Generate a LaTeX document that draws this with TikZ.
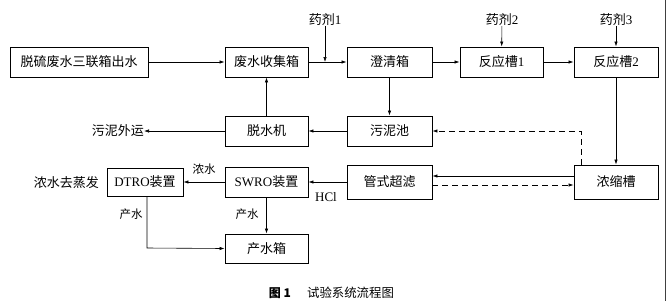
\documentclass[tikz,border=0pt]{standalone}
\usepackage{fontspec}
\setmainfont{Liberation Serif}
\newfontfamily\cjk{Noto Sans CJK SC}
\usetikzlibrary{arrows.meta}
\newcommand\zh[1]{{\cjk #1}}
\begin{document}
\begin{tikzpicture}[x=1pt,y=-1pt,
  box/.style={draw,line width=0.9pt,inner sep=0pt,minimum height=30pt,font=\fontsize{13}{14}\selectfont},
  lbl/.style={inner sep=0pt,font=\fontsize{13}{14}\selectfont},
  slbl/.style={inner sep=0pt,font=\fontsize{11.5}{12}\selectfont},
  flow/.style={line width=0.6pt,-{Latex[length=5pt,width=3.4pt]}},
  dflow/.style={flow,dashed,dash pattern=on 6pt off 4pt}]
\useasboundingbox (0,0) rectangle (668,301);
\draw[line width=0.8pt,black!75] (665,0) -- (665,301);
% boxes
\node[box,minimum width=138pt] (b1) at (79,62) {\zh{脱硫废水三联箱出水}};
\node[box,minimum width=83pt] (b2) at (266.5,62) {\zh{废水收集箱}};
\node[box,minimum width=85pt] (b3) at (389.5,62) {\zh{澄清箱}};
\node[box,minimum width=83pt] (b4) at (501.5,62) {\zh{反应槽}1};
\node[box,minimum width=84pt] (b5) at (616,62) {\zh{反应槽}2};
\node[box,minimum width=83pt] (b6) at (266.5,131) {\zh{脱水机}};
\node[box,minimum width=85pt] (b7) at (389.5,131) {\zh{污泥池}};
\node[box,minimum width=84pt,minimum height=34pt] (b8) at (616,182) {\zh{浓缩槽}};
\node[box,minimum width=85pt,minimum height=34pt] (b9) at (389.5,182) {\zh{管式超滤}};
\node[box,minimum width=83pt] (b10) at (266.5,182) {SWRO\zh{装置}};
\node[box,minimum width=76pt,minimum height=28pt] (b11) at (145,182) {DTRO\zh{装置}};
\node[box,minimum width=83pt,minimum height=29pt] (b12) at (266.5,248.5) {\zh{产水箱}};
% labels
\node[lbl] (y1) at (325,20) {\zh{药剂}1};
\node[lbl] (y2) at (502,20) {\zh{药剂}2};
\node[lbl] (y3) at (616,20) {\zh{药剂}3};
\node[lbl,anchor=east] (wy) at (144,131) {\zh{污泥外运}};
\node[lbl] (hcl) at (326,197) {HCl};
\node[slbl] (ns) at (204,169) {\zh{浓水}};
\node[lbl,anchor=east] (zf) at (99,183) {\zh{浓水去蒸发}};
\node[slbl] (cs1) at (131,214) {\zh{产水}};
\node[slbl] (cs2) at (247,214) {\zh{产水}};
\node[inner sep=0pt,font=\cjk\bfseries\fontsize{12}{12}\selectfont] (fig) at (280,293) {图 1};
\node[inner sep=0pt,font=\fontsize{12.4}{13}\selectfont] (cap) at (350.5,293) {\zh{试验系统流程图}};
% coordinates
\coordinate (y1e) at (325,62);
\coordinate (dc) at (581,131);
\coordinate (dl) at (147,248);
% connectors
\draw[flow] (b1) -- (b2);
\draw[flow] (b2) -- (b3);
\draw[flow] (y1) -- (y1e);
\draw[flow] (y2) -- (b4);
\draw[flow] (y3) -- (b5);
\draw[flow] (b3) -- (b4);
\draw[flow] (b4) -- (b5);
\draw[flow] (b3) -- (b7);
\draw[flow] (b7) -- (b6);
\draw[flow] (b6) -- (b2);
\draw[flow] (b6) -- (wy);
\draw[flow] (b5) -- (b8);
\draw[dflow] (b8.north -| dc) -- (dc) -- (b7.east);
\draw[dflow] ([yshift=-3pt]b9.east) -- ([yshift=-3pt]b9.east -| b8.west);
\draw[flow] ([yshift=6pt]b8.west) -- ([yshift=6pt]b8.west -| b9.east);
\draw[flow] (b9) -- (b10);
\draw[flow] (b10) -- (b11);
\draw[flow] (b10) -- (b12);
\draw[flow] (b11.south -| dl) -- (dl) -- (b12.west);
\end{tikzpicture}
\end{document}
